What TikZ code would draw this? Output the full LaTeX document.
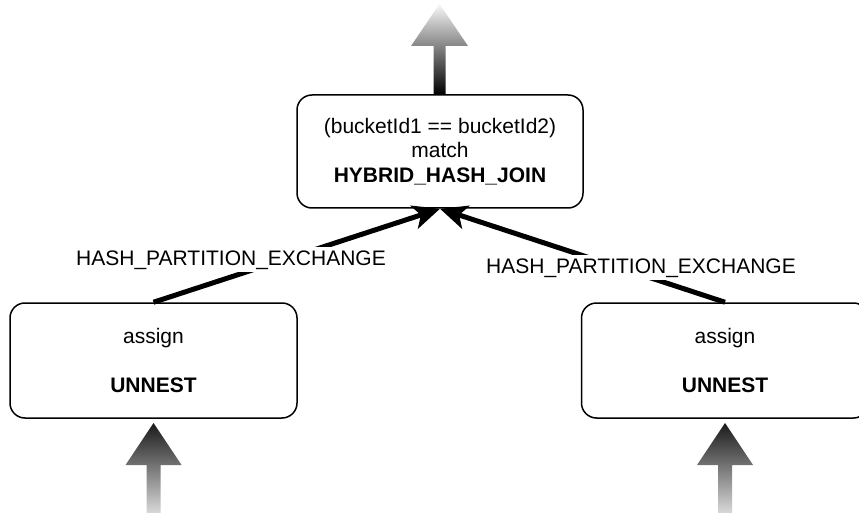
\documentclass[tikz,border=0pt]{standalone}
\usepackage{fontspec}
\setmainfont{Liberation Sans}
\usetikzlibrary{arrows.meta}

\tikzset{
  opbox/.style={draw=black, line width=1.5pt, rounded corners=15pt, fill=white,
    minimum width=287pt, minimum height=115pt, align=center, inner sep=0pt,
    font=\fontsize{21}{24.5}\selectfont},
  conn/.style={line width=5pt, -{Stealth[length=27pt, width=24pt, inset=7pt]}},
  edgelabel/.style={fill=white, inner sep=3pt, anchor=base,
    font=\fontsize{21}{24.5}\selectfont},
  flowup/.style={top color=white!97!black, bottom color=black, draw=none},
  flowin/.style={top color=black!90, bottom color=white!85!black, draw=none},
}

\begin{document}
\begin{tikzpicture}[x=1pt, y=-1pt]
  \clip (0,0) rectangle (859,513);
  \fill[white] (0,0) rectangle (859,513);

  % operator boxes
  \node[opbox, minimum width=286pt, minimum height=113pt] (join) at (440,151.5)
    {(bucketId1 == bucketId2)\\match\\\textbf{HYBRID\_HASH\_JOIN}};
  \node[opbox] (left) at (153.5,360.5) {assign\\[24.5pt]\textbf{UNNEST}};
  \node[opbox] (right) at (725,360.5) {assign\\[24.5pt]\textbf{UNNEST}};

  \coordinate (meet) at (join.south);

  % output of the join
  \shade[flowup] (433.5,95) -- (433.5,46) -- (411,46) -- (439.5,4)
    -- (468,46) -- (445.5,46) -- (445.5,95) -- cycle;

  % inputs of the two unnest operators
  \shade[flowin] (146.5,513) -- (146.5,465) -- (125.5,465) -- (153.5,423)
    -- (181.5,465) -- (160.5,465) -- (160.5,513) -- cycle;
  \shade[flowin] (718,513) -- (718,465) -- (697,465) -- (725,423)
    -- (753,465) -- (732,465) -- (732,513) -- cycle;

  % exchanges
  \draw[conn] (left.north) -- (meet);
  \draw[conn] (right.north) -- (meet);

  \node[edgelabel] (lblL) at (231,265) {HASH\_PARTITION\_EXCHANGE};
  \node[edgelabel] (lblR) at (641,273) {HASH\_PARTITION\_EXCHANGE};
\end{tikzpicture}
\end{document}
